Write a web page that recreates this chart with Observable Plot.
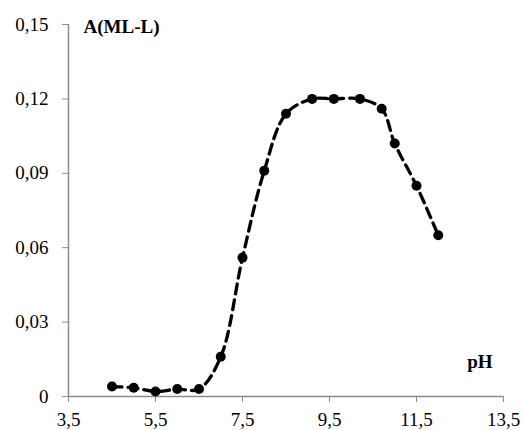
<!DOCTYPE html>
<html>
<head>
<meta charset="utf-8">
<script src="https://cdn.jsdelivr.net/npm/d3@7"></script>
<script src="https://cdn.jsdelivr.net/npm/@observablehq/plot@0.6"></script>
<style>
  html, body { margin: 0; padding: 0; background: #fff; }
  svg { display: block; }
</style>
</head>
<body>
<div id="chart"></div>
<script>
const pH = [4.5, 5.0, 5.5, 6.0, 6.5, 7.0, 7.5, 8.0, 8.5, 9.1, 9.6, 10.2, 10.7, 11.0, 11.5, 12.0];
const absorbance = [0.004, 0.0035, 0.002, 0.003, 0.003, 0.016, 0.056, 0.091, 0.114, 0.120, 0.120, 0.120, 0.116, 0.102, 0.085, 0.065];
const xTicks = [3.5, 5.5, 7.5, 9.5, 11.5, 13.5];
const yTicks = [0, 0.03, 0.06, 0.09, 0.12, 0.15];
const yLabel = "A(ML-L)";
const xLabel = "pH";

const data = pH.map((x, i) => ({x, y: absorbance[i]}));
const fmtX = d => d.toFixed(1).replace(".", ",");
const fmtY = d => d === 0 ? "0" : d.toFixed(2).replace(".", ",");
const axisColor = "#8c8c8c";
const font = "'Liberation Serif', 'Times New Roman', serif";

const chart = Plot.plot({
  width: 524,
  height: 430,
  marginLeft: 68,
  marginRight: 21,
  marginTop: 24,
  marginBottom: 34,
  style: {fontFamily: font, fontSize: "19px", color: "#000", background: "#fff"},
  x: {domain: [3.5, 13.5]},
  y: {domain: [0, 0.15]},
  marks: [
    Plot.axisX({ticks: xTicks, tickFormat: fmtX, tickSize: 6, tickPadding: 10, stroke: axisColor, fill: "#000", label: null, fontSize: 19}),
    Plot.axisY({ticks: yTicks, tickFormat: fmtY, tickSize: 6, tickPadding: 14, stroke: axisColor, fill: "#000", label: null, fontSize: 19}),
    Plot.ruleX([3.5], {stroke: axisColor, strokeWidth: 1.5}),
    Plot.ruleY([0], {stroke: axisColor, strokeWidth: 1.5}),
    Plot.line(data, {x: "x", y: "y", stroke: "#000", strokeWidth: 3.3, strokeDasharray: "10,6", curve: "catmull-rom"}),
    Plot.dot(data, {x: "x", y: "y", r: 5, fill: "#000", stroke: "none"}),
    Plot.text([yLabel], {frameAnchor: "top-left", dx: 15, dy: -5, textAnchor: "start", fontWeight: "bold", fontSize: 19, fill: "#000"}),
    Plot.text([xLabel], {frameAnchor: "bottom-right", dx: -11, dy: -29, textAnchor: "end", fontWeight: "bold", fontSize: 19, fill: "#000"})
  ]
});
document.getElementById("chart").appendChild(chart);
</script>
</body>
</html>
